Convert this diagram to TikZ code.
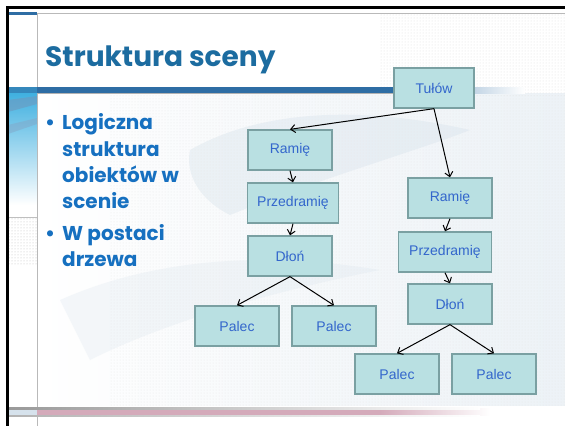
\documentclass[tikz,border=0pt]{standalone}
\usepackage{fontspec}
\setmainfont{Liberation Sans}
\newfontfamily\titlefont{Poppins}
\usetikzlibrary{arrows.meta,patterns,fadings}
\definecolor{titleblue}{RGB}{28,108,160}
\definecolor{bulletblue}{RGB}{22,112,192}
\definecolor{barblue}{RGB}{46,109,164}
\definecolor{boxfill}{RGB}{185,224,226}
\definecolor{boxborder}{RGB}{122,160,162}
\definecolor{boxtext}{RGB}{51,102,204}
\definecolor{bandpink}{RGB}{212,170,186}
\definecolor{swoosh}{RGB}{214,226,236}
\definecolor{stripcyan}{RGB}{64,176,224}
\tikzset{
  tbox/.style={draw=boxborder, fill=boxfill, line width=1.3pt, minimum height=40pt,
    inner sep=0pt, text=boxtext, font=\fontsize{14}{16}\selectfont},
  arr/.style={-{Straight Barb[length=4.5pt,width=8pt,line width=1pt]}, line width=1pt, black},
  bul/.style={anchor=base west, inner sep=0pt, text=bulletblue,
    font=\titlefont\bfseries\fontsize{20}{24}\selectfont}
}
\begin{document}
\begin{tikzpicture}[x=1pt,y=-1pt]
\useasboundingbox (0,0) rectangle (565,426);
\fill[white] (0,0) rectangle (565,426);
% background texture
\shade[left color=white, right color=swoosh!45] (37,93) rectangle (565,405);
\fill[swoosh, opacity=0.4] (190,150) .. controls (260,110) and (360,105) .. (470,130)
  .. controls (420,150) and (330,175) .. (230,215) .. controls (200,200) and (185,175) .. (190,150) -- cycle;
\fill[swoosh, opacity=0.25] (60,300) .. controls (150,260) and (260,250) .. (380,270)
  .. controls (280,290) and (170,320) .. (90,360) -- cycle;
\fill[pattern=dots, pattern color=black!9] (110,95) rectangle (565,405);
\fill[pattern=dots, pattern color=black!12] (380,14) rectangle (565,95);
% left strip
\shade[top color=stripcyan, bottom color=white] (8,93) rectangle (37,205);
\fill[barblue!70, opacity=0.6] (8,100) -- (37,96) -- (37,104) -- (8,112) -- cycle;
\fill[barblue!60, opacity=0.5] (8,125) -- (37,118) -- (37,124) -- (8,134) -- cycle;
\draw[gray!50, line width=0.5pt] (8,217) -- (37,217);
\fill[pattern=dots, pattern color=black!25] (8,218) rectangle (37,265);
\draw[gray!55, line width=0.6pt] (37.5,14) -- (37.5,426);
% top line
\draw[gray!55, line width=1pt] (8,13.5) -- (565,13.5);
\fill[barblue] (8,11.5) rectangle (37,15);
% title bar
\fill[barblue!60!stripcyan] (8,87) rectangle (37,93);
\fill[barblue] (37,87) rectangle (400,93);
\shade[left color=barblue!70, right color=white] (400,87) rectangle (525,93);
\draw[gray!60, line width=0.5pt] (37,93.3) -- (470,93.3);
% bottom band
\fill[swoosh] (8,408.5) rectangle (37,415.5);
\fill[bandpink] (37,408.5) rectangle (380,415.5);
\shade[left color=bandpink, right color=white] (380,408.5) rectangle (490,415.5);
\shade[left color=gray!80, right color=white] (8,407.5) rectangle (480,409);
\shade[left color=gray!60, right color=white] (8,415) rectangle (480,416.3);
% frame
\fill[black] (6,6) rectangle (565,8.5);
\fill[black] (6,6) rectangle (8.5,426);
% title
\node[anchor=base west, inner sep=0pt, text=titleblue,
  font=\titlefont\bfseries\fontsize{28}{32}\selectfont] (title) at (45,66.5) {Struktura sceny};
% bullets
\node[bul] (b1) at (45,129.5) {•};
\node[bul] (l1) at (62,129.5) {Logiczna};
\node[bul] (l2) at (62,156) {struktura};
\node[bul] (l3) at (62,182) {obiektów w};
\node[bul] (l4) at (62,208) {scenie};
\node[bul] (b2) at (45,240) {•};
\node[bul] (l5) at (62,240) {W postaci};
\node[bul] (l6) at (62,266) {drzewa};
% tree
\node[tbox, minimum width=80pt] (tulow) at (434,88) {Tułów};
\node[tbox, minimum width=84pt] (ramL) at (290,150) {Ramię};
\node[tbox, minimum width=91pt] (przL) at (293,203) {Przedramię};
\node[tbox, minimum width=84pt] (dlonL) at (290,256) {Dłoń};
\node[tbox, minimum width=84pt] (pLL) at (237,326) {Palec};
\node[tbox, minimum width=84pt] (pLR) at (334,326) {Palec};
\node[tbox, minimum width=84pt] (ramR) at (450,198) {Ramię};
\node[tbox, minimum width=93pt] (przR) at (445,252) {Przedramię};
\node[tbox, minimum width=84pt] (dlonR) at (450,304) {Dłoń};
\node[tbox, minimum width=84pt] (pRL) at (397,374) {Palec};
\node[tbox, minimum width=84pt] (pRR) at (494,374) {Palec};
\draw[arr] (tulow.south) -- (ramL.north);
\draw[arr] (tulow.south) -- (ramR.north);
\draw[arr] (ramL.south) -- (przL.north);
\draw[arr] (przL.south) -- (dlonL.north);
\draw[arr] (dlonL.south) -- (pLL.north);
\draw[arr] (dlonL.south) -- (pLR.north);
\draw[arr] (ramR.south) -- (przR.north);
\draw[arr] (przR.south) -- (dlonR.north);
\draw[arr] (dlonR.south) -- (pRL.north);
\draw[arr] (dlonR.south) -- (pRR.north);
\end{tikzpicture}
\end{document}
